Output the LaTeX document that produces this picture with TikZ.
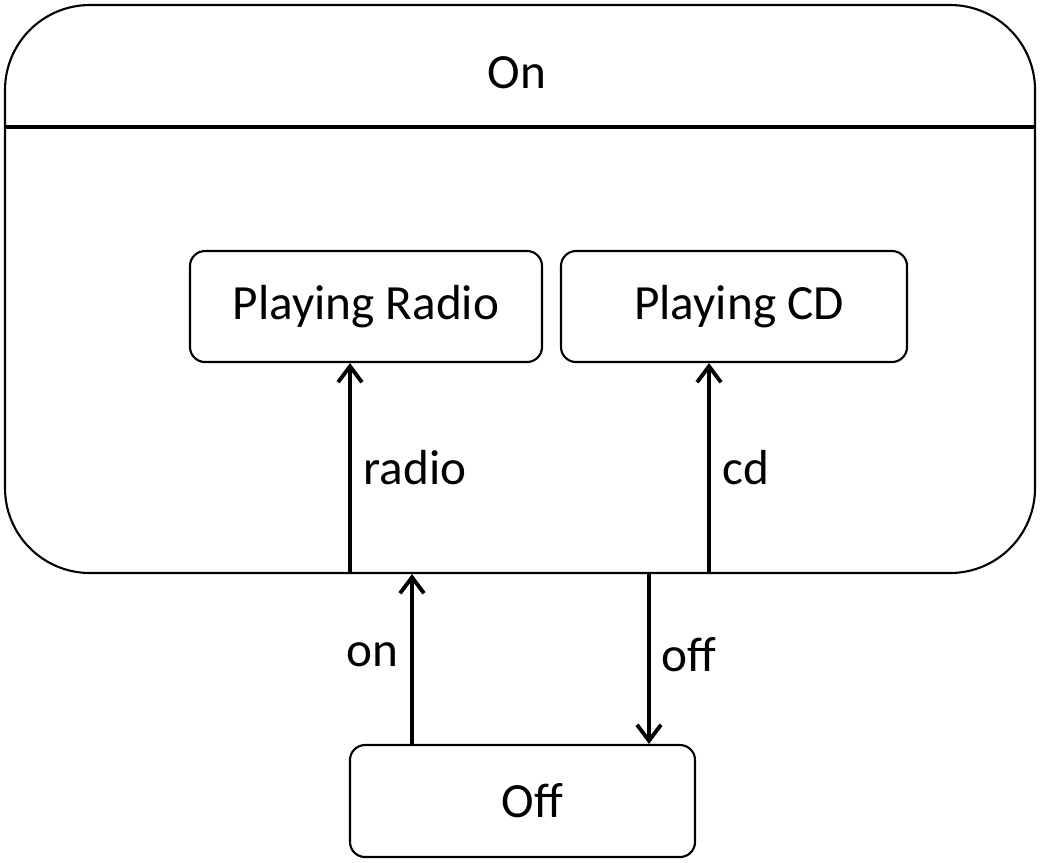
\documentclass[tikz,border=0pt]{standalone}
\usepackage{fontspec}
\setmainfont{Carlito}
\usetikzlibrary{arrows.meta}

\begin{document}
\begin{tikzpicture}[
  font=\fontsize{14}{16}\selectfont,
  state/.style={draw,line width=.6pt,rounded corners=1.5mm,
    minimum height=1.11cm,inner sep=0pt},
  arr/.style={line width=1.1pt,-{Straight Barb[length=1.6mm,width=2.4mm]}}]
\useasboundingbox (0,0) rectangle (10.4,-8.62);
\node[draw,line width=.6pt,rounded corners=8.5mm,minimum width=10.3cm,
  minimum height=5.68cm] (on) at (5.20,-2.89) {};
\coordinate (sep) at (0,-1.27);
\draw[line width=1.1pt] (on.west |- sep) -- (on.east |- sep);
\node (ontext) at (5.17,-0.73) {On};
\node[state,minimum width=3.52cm] (radio) at (3.66,-3.065) {Playing Radio};
\node[state,minimum width=3.46cm] (cd) at (7.34,-3.065) {\hspace{1mm}Playing CD};
\node[state,minimum width=3.45cm,minimum height=1.12cm] (off) at (5.225,-8.01) {\hspace{2mm}Off};
\coordinate (xradio) at (3.50,0);
\coordinate (xcd) at (7.09,0);
\coordinate (xon) at (4.12,0);
\coordinate (xoff) at (6.49,0);
\draw[arr] (on.south -| xradio) -- (radio.south -| xradio);
\draw[arr] (on.south -| xcd) -- (cd.south -| xcd);
\draw[arr] (off.north -| xon) -- (on.south -| xon);
\draw[arr] (on.south -| xoff) -- (off.north -| xoff);
\node (lradio) at (4.15,-4.68) {radio};
\node (lcd) at (7.46,-4.68) {cd};
\node (lon) at (3.72,-6.55) {on};
\node (loff) at (6.89,-6.55) {off};
\end{tikzpicture}
\end{document}
